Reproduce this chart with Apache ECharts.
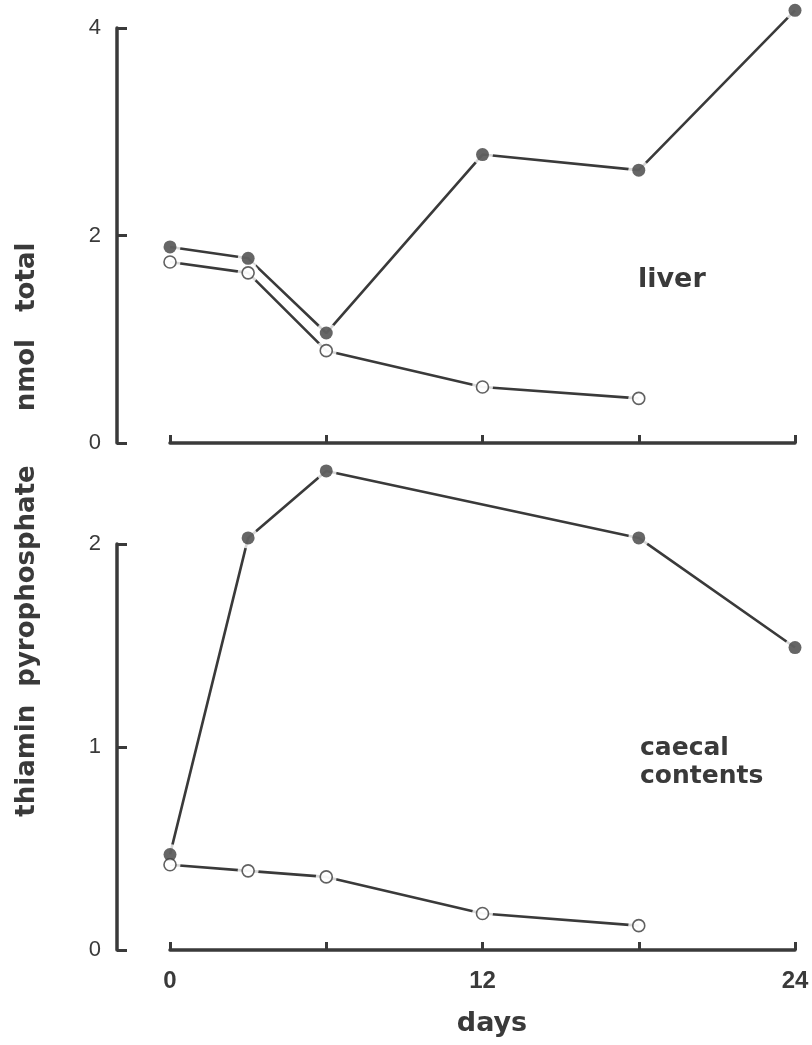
<!DOCTYPE html>
<html>
<head>
<meta charset="utf-8">
<title>Thiamin pyrophosphate — liver and caecal contents</title>
<script src="https://cdn.jsdelivr.net/npm/echarts@6/dist/echarts.min.js"></script>
<style>
  html, body { margin: 0; padding: 0; background: #ffffff; }
  #chart { width: 812px; height: 1045px; }
</style>
</head>
<body>
<div id="chart"></div>
<script>
// Sampling days and measured amounts
const liverFilledDays = [0, 3, 6, 12, 18, 24];
const liverFilledValues = [1.89, 1.78, 1.06, 2.78, 2.63, 4.17];
const liverOpenDays = [0, 3, 6, 12, 18];
const liverOpenValues = [1.745, 1.64, 0.89, 0.54, 0.43];

const caecalFilledDays = [0, 3, 6, 18, 24];
const caecalFilledValues = [0.47, 2.03, 2.36, 2.03, 1.49];
const caecalOpenDays = [0, 3, 6, 12, 18];
const caecalOpenValues = [0.42, 0.39, 0.36, 0.18, 0.12];

// Axis ticks
const dayLabels = [0, 12, 24];
const liverTicks = [0, 2, 4];
const caecalTicks = [0, 1, 2];

const INK = '#3a3a3a';
const MARK = '#404040';
const labelFont = 'DejaVu Sans';

function pairs(xs, ys) {
  return xs.map((x, i) => [x, ys[i]]);
}

// One curve = connecting line, white halo that opens a gap round each point, and the marker itself
function curve(idx, xs, ys, filled) {
  const data = pairs(xs, ys);
  return [
    {
      type: 'line', xAxisIndex: idx, yAxisIndex: idx, data: data,
      showSymbol: false, clip: false, z: 2, silent: true,
      lineStyle: { color: INK, width: 2.6 }
    },
    {
      type: 'scatter', xAxisIndex: idx, yAxisIndex: idx, data: data,
      symbol: 'circle', symbolSize: 21, clip: false, z: 3, silent: true,
      itemStyle: { color: '#ffffff', borderWidth: 0 }
    },
    {
      type: 'scatter', xAxisIndex: idx, yAxisIndex: idx, data: data,
      symbol: 'circle', symbolSize: filled ? 13 : 12, clip: false, z: filled ? 4 : 5, silent: true,
      itemStyle: filled
        ? { color: MARK, borderWidth: 0 }
        : { color: '#ffffff', borderColor: INK, borderWidth: 1.6 }
    }
  ];
}

function xAxisDef(idx, showLabels) {
  return {
    type: 'value', gridIndex: idx, min: 0, max: 24, interval: 6,
    axisLine: { show: true, onZero: false, lineStyle: { color: INK, width: 3.5 } },
    axisTick: { show: true, inside: true, length: 8, lineStyle: { color: INK, width: 3 } },
    splitLine: { show: false },
    axisLabel: {
      show: showLabels, margin: 19,
      color: INK, fontFamily: 'Liberation Sans', fontWeight: 'bold', fontSize: 24,
      formatter: v => (dayLabels.indexOf(v) >= 0 ? String(v) : '')
    }
  };
}

function yAxisDef(idx, ticks) {
  const step = ticks[1] - ticks[0];
  return {
    type: 'value', gridIndex: idx, min: ticks[0], max: ticks[ticks.length - 1], interval: step,
    offset: 53,
    axisLine: { show: true, onZero: false, lineStyle: { color: INK, width: 3.5 } },
    axisTick: { show: true, inside: true, length: 10, lineStyle: { color: INK, width: 3 } },
    splitLine: { show: false },
    axisLabel: {
      margin: 16, color: INK, fontFamily: 'Liberation Sans', fontSize: 22
    }
  };
}

const chart = echarts.init(document.getElementById('chart'), null, { renderer: 'canvas' });

chart.setOption({
  animation: false,
  backgroundColor: '#ffffff',
  grid: [
    { left: 170, right: 17, top: 28, height: 415 },
    { left: 170, right: 17, top: 544, height: 406 }
  ],
  xAxis: [xAxisDef(0, false), xAxisDef(1, true)],
  yAxis: [yAxisDef(0, liverTicks), yAxisDef(1, caecalTicks)],
  graphic: [
    {
      type: 'text', x: 27, y: 327, rotation: Math.PI / 2,
      style: {
        text: 'nmol   total', fill: INK,
        font: 'bold 26px "' + labelFont + '"',
        textAlign: 'center', textVerticalAlign: 'middle'
      }
    },
    {
      type: 'text', x: 27, y: 641, rotation: Math.PI / 2,
      style: {
        text: 'thiamin  pyrophosphate', fill: INK,
        font: 'bold 26px "' + labelFont + '"',
        textAlign: 'center', textVerticalAlign: 'middle'
      }
    },
    {
      type: 'text', x: 638, y: 280,
      style: {
        text: 'liver', fill: INK,
        font: 'bold 27px "' + labelFont + '"',
        textAlign: 'left', textVerticalAlign: 'middle'
      }
    },
    {
      type: 'text', x: 640, y: 762,
      style: {
        text: 'caecal\ncontents', fill: INK,
        font: 'bold 25px "' + labelFont + '"',
        lineHeight: 28,
        textAlign: 'left', textVerticalAlign: 'middle'
      }
    },
    {
      type: 'text', x: 492, y: 1024,
      style: {
        text: 'days', fill: INK,
        font: 'bold 27px "' + labelFont + '"',
        textAlign: 'center', textVerticalAlign: 'middle'
      }
    }
  ],
  series: [].concat(
    curve(0, liverFilledDays, liverFilledValues, true),
    curve(0, liverOpenDays, liverOpenValues, false),
    curve(1, caecalFilledDays, caecalFilledValues, true),
    curve(1, caecalOpenDays, caecalOpenValues, false)
  )
});
</script>
</body>
</html>
